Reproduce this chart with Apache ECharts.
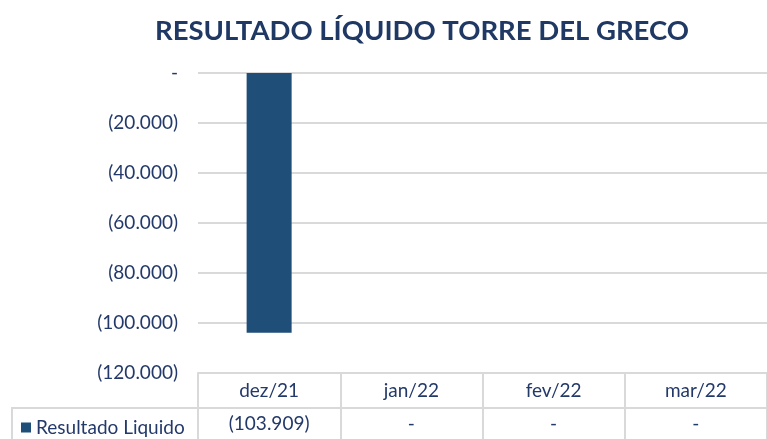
<!DOCTYPE html>
<html>
<head>
<meta charset="utf-8">
<script src="https://cdn.jsdelivr.net/npm/echarts@6/dist/echarts.min.js"></script>
<style>
  html, body { margin: 0; padding: 0; background: #fff; }
  #main { width: 767px; height: 439px; }
</style>
</head>
<body>
<div id="main"></div>
<script>
var categories = ["dez/21", "jan/22", "fev/22", "mar/22"];
var resultado = [-103909, 0, 0, 0];
var seriesName = "Resultado Liquido";

var navy = "#23396a";
var barColor = "#1F4E79";
var lineColor = "#d9d9d9";
var font = "Lato";

// formato contábil: negativos entre parênteses, zero como "-"
function fmt(v) {
  if (v === 0) return "-";
  var s = Math.abs(v).toString().replace(/\B(?=(\d{3})+(?!\d))/g, ".");
  return v < 0 ? "(" + s + ")" : s;
}

var myChart = echarts.init(document.getElementById("main"));

var option = {
  animation: false,
  title: {
    text: "RESULTADO LÍQUIDO TORRE DEL GRECO",
    left: 150,
    top: 12,
    textStyle: { color: "#1f3864", fontFamily: font, fontWeight: "bold", fontSize: 27.5 }
  },
  legend: {
    left: 16,
    top: 413,
    icon: "rect",
    itemWidth: 10,
    itemHeight: 10,
    itemGap: 6,
    textStyle: { color: navy, fontFamily: font, fontSize: 19 },
    data: [seriesName]
  },
  grid: { left: 198, right: -3, top: 73, bottom: 66 },
  xAxis: [
    {
      type: "category",
      data: categories,
      position: "bottom",
      axisLine: { show: true, onZero: false, lineStyle: { color: lineColor, width: 2 } },
      axisTick: { show: true, length: 66, lineStyle: { color: lineColor, width: 2 } },
      axisLabel: { color: navy, fontFamily: font, fontSize: 19, margin: 8 }
    },
    {
      type: "category",
      data: categories,
      position: "bottom",
      offset: 34,
      axisLine: { show: false, onZero: false },
      axisTick: { show: false },
      axisLabel: {
        color: navy,
        fontFamily: font,
        fontSize: 19,
        margin: 7,
        formatter: function (value, index) {
          return fmt(resultado[index]);
        }
      }
    }
  ],
  yAxis: {
    type: "value",
    min: -120000,
    max: 0,
    interval: 20000,
    axisLine: { show: false },
    axisTick: { show: false },
    splitLine: { lineStyle: { color: lineColor, width: 2 } },
    axisLabel: {
      color: navy,
      fontFamily: font,
      fontSize: 19,
      margin: 20,
      formatter: function (v) { return fmt(v); }
    }
  },
  graphic: [
    {
      type: "polyline",
      shape: { points: [[12, 440], [12, 408], [770, 408]] },
      style: { stroke: lineColor, lineWidth: 2, fill: null }
    }
  ],
  series: [
    {
      name: seriesName,
      type: "bar",
      data: resultado,
      barWidth: 45,
      itemStyle: { color: barColor }
    }
  ]
};

myChart.setOption(option);
</script>
</body>
</html>
